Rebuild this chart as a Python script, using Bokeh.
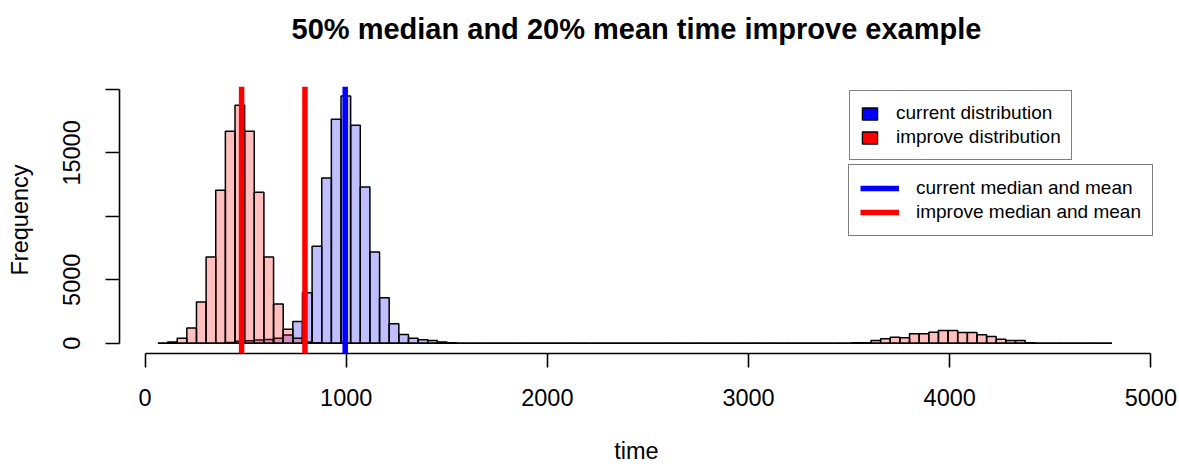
from bokeh.plotting import figure
from bokeh.models import FixedTicker, Span, Legend, LegendItem, ColumnDataSource, Title
from bokeh.embed import file_html
from bokeh.resources import INLINE

# ---- data ----
bin_start = 64.0
bin_width = 47.9

current_counts = [
    0, 0, 0, 0, 0, 0, 0, 50, 150, 200,
    250, 300, 400, 650, 1710, 3975, 7650, 13020, 17650, 19490,
    17180, 12310, 7180, 3580, 1530, 685, 395, 270, 215, 95,
    30, 0, 0, 0, 0, 0, 0, 0, 0, 0,
    0, 0, 0, 0, 0, 0, 0, 0, 0, 0,
    0, 0, 0, 0, 0, 0, 0, 0, 0, 0,
    0, 0, 0, 0, 0, 0, 0, 0, 0, 0,
    0, 0, 0, 0, 0, 0, 0, 0, 0, 0,
    0, 0, 0, 0, 0, 0, 0, 0, 0, 0,
    0, 0, 0, 0, 0, 0, 0, 0, 0,
]
improve_counts = [
    0, 100, 400, 1200, 3250, 6800, 12050, 16700, 18750, 16700,
    11900, 6800, 3100, 1100, 400, 100, 30, 0, 0, 0,
    0, 0, 0, 0, 0, 0, 0, 0, 0, 0,
    0, 0, 0, 0, 0, 0, 0, 0, 0, 0,
    0, 0, 0, 0, 0, 0, 0, 0, 0, 0,
    0, 0, 0, 0, 0, 0, 0, 0, 0, 0,
    0, 0, 0, 0, 0, 0, 0, 0, 0, 0,
    0, 0, 30, 40, 210, 350, 475, 425, 740, 740,
    870, 1000, 1000, 845, 845, 660, 530, 315, 210, 210,
    40, 0, 0, 0, 0, 0, 0, 0, 0,
]
current_median_mean = [995]
improve_median_mean = [480, 795]

x_ticks = [0, 1000, 2000, 3000, 4000, 5000]
y_ticks = [0, 5000, 10000, 15000, 20000]
y_tick_labels = {0: "0", 5000: "5000", 10000: "", 15000: "15000", 20000: ""}
dist_labels = ["current distribution", "improve distribution"]
line_labels = ["current median and mean", "improve median and mean"]
title_text = "50% median and 20% mean time improve example"

n_bins = len(improve_counts)
lefts = [bin_start + bin_width * i for i in range(n_bins)]
rights = [bin_start + bin_width * (i + 1) for i in range(n_bins)]

FONT = "Liberation Sans"
NAN = float("nan")

p = figure(width=1179, height=466, x_range=(-127, 5013), y_range=(-812, 20236),
           output_backend="svg", toolbar_location=None,
           min_border_left=119, min_border_right=26, min_border_top=86, min_border_bottom=113)
p.outline_line_color = None
p.grid.visible = False
p.background_fill_color = "white"

src_cur = ColumnDataSource(dict(left=lefts, right=rights, top=current_counts, bottom=[0] * n_bins))
src_imp = ColumnDataSource(dict(left=lefts, right=rights, top=improve_counts, bottom=[0] * n_bins))

p.quad(left="left", right="right", top="top", bottom="bottom", source=src_cur,
       fill_color="blue", fill_alpha=0.25, line_color="black", line_width=1.5)
p.quad(left="left", right="right", top="top", bottom="bottom", source=src_imp,
       fill_color="red", fill_alpha=0.25, line_color="black", line_width=1.5)

for v in current_median_mean:
    p.add_layout(Span(location=v, dimension="height", line_color="blue", line_width=5.5))
for v in improve_median_mean:
    p.add_layout(Span(location=v, dimension="height", line_color="red", line_width=5.5))

# legend proxies (not drawn in the plot area: NaN positions)
sq_cur = p.rect(x=[NAN], y=[NAN], width=1, height=1, fill_color="blue", line_color="black", line_width=1.3)
sq_imp = p.rect(x=[NAN], y=[NAN], width=1, height=1, fill_color="red", line_color="black", line_width=1.3)
ln_cur = p.line(x=[NAN, NAN], y=[NAN, NAN], line_color="blue", line_width=5.5)
ln_imp = p.line(x=[NAN, NAN], y=[NAN, NAN], line_color="red", line_width=5.5)

leg1 = Legend(items=[LegendItem(label=dist_labels[0], renderers=[sq_cur]),
                     LegendItem(label=dist_labels[1], renderers=[sq_imp])],
              location=(730, 193), glyph_width=19, glyph_height=15, label_height=24, spacing=0,
              padding=10, margin=0, label_standoff=17,
              label_text_font=FONT, label_text_font_size="19px", label_text_color="black",
              border_line_color="black", border_line_width=1.5,
              background_fill_color="white", background_fill_alpha=1.0)
leg2 = Legend(items=[LegendItem(label=line_labels[0], renderers=[ln_cur]),
                     LegendItem(label=line_labels[1], renderers=[ln_imp])],
              location=(729, 117), glyph_width=39, glyph_height=24, spacing=0,
              padding=11, margin=0, label_standoff=17,
              label_text_font=FONT, label_text_font_size="19px", label_text_color="black",
              border_line_color="black", border_line_width=1.5,
              background_fill_color="white", background_fill_alpha=1.0)
p.add_layout(leg1)
p.add_layout(leg2)

# axes
xa = p.xaxis[0]
xa.ticker = FixedTicker(ticks=x_ticks)
xa.bounds = (x_ticks[0], x_ticks[-1])
xa.axis_label = "time"
ya = p.yaxis[0]
ya.ticker = FixedTicker(ticks=y_ticks)
ya.bounds = (y_ticks[0], y_ticks[-1])
ya.major_label_overrides = y_tick_labels
ya.major_label_orientation = "vertical"
ya.axis_label = "Frequency"

for ax in (xa, ya):
    ax.minor_tick_line_color = None
    ax.major_tick_in = 0
    ax.major_tick_out = 14
    ax.axis_line_width = 1.6
    ax.major_tick_line_width = 1.6
    ax.axis_line_color = "black"
    ax.major_tick_line_color = "black"
    ax.major_label_text_font = FONT
    ax.major_label_text_font_size = "23.5px"
    ax.major_label_text_color = "black"
    ax.axis_label_text_font = FONT
    ax.axis_label_text_font_size = "23.5px"
    ax.axis_label_text_font_style = "normal"
    ax.axis_label_text_color = "black"
xa.major_label_standoff = 21
xa.axis_label_standoff = 29
ya.major_label_standoff = 25
ya.axis_label_standoff = 28

# title: a blank spacer panel plus the real title
spacer = Title(text=" ", text_font_size="10px", standoff=29)
main_title = Title(text=title_text, text_font=FONT, text_font_size="29px", text_font_style="bold",
                   text_color="black", align="center", standoff=0)
p.add_layout(spacer, "above")
p.add_layout(main_title, "above")

open("out.html", "w").write(file_html(p, INLINE))
